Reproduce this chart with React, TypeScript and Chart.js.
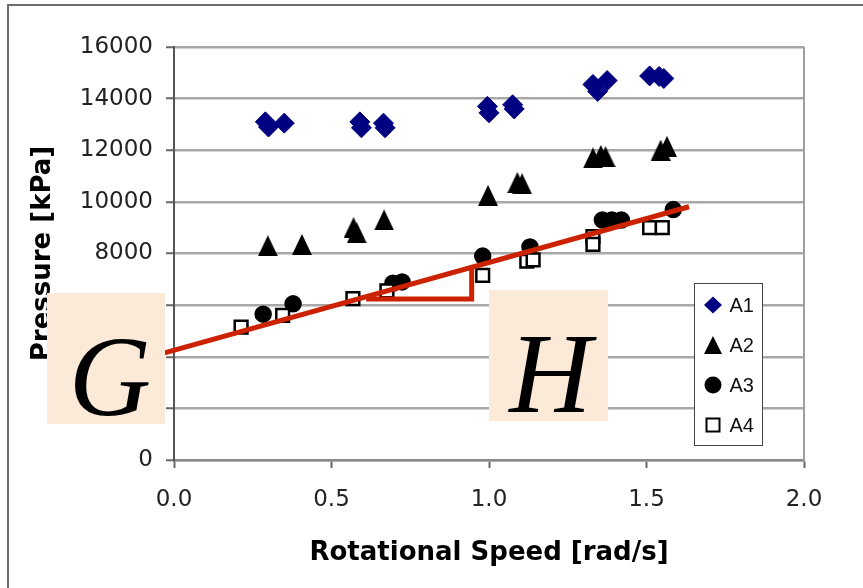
import React, { useEffect, useRef } from 'react';
import { Chart, registerables } from 'chart.js';

Chart.register(...registerables);

// ---- data ----
const seriesNames = ['A1', 'A2', 'A3', 'A4'];

const a1X = [0.29, 0.30, 0.35, 0.59, 0.595, 0.665, 0.67, 0.995, 1.0, 1.075, 1.08, 1.33, 1.345, 1.375, 1.51, 1.54, 1.555];
const a1Y = [13100, 12900, 13050, 13100, 12870, 13050, 12870, 13700, 13450, 13760, 13600, 14550, 14280, 14700, 14880, 14860, 14780];

const a2X = [0.298, 0.406, 0.57, 0.58, 0.667, 0.997, 1.09, 1.105, 1.33, 1.355, 1.37, 1.545, 1.565];
const a2Y = [8300, 8350, 9000, 8800, 9300, 10250, 10750, 10700, 11700, 11800, 11750, 12000, 12150];

const a3X = [0.283, 0.378, 0.695, 0.724, 0.98, 1.13, 1.36, 1.39, 1.42, 1.585];
const a3Y = [5650, 6050, 6850, 6900, 7900, 8250, 9300, 9300, 9300, 9700];

const a4X = [0.213, 0.345, 0.568, 0.676, 0.98, 1.12, 1.14, 1.33, 1.33, 1.51, 1.55];
const a4Y = [5150, 5600, 6250, 6550, 7150, 7700, 7750, 8650, 8350, 9000, 9000];

const trendX = [-0.03, 1.635];
const trendY = [4150, 9810];

const stepX = [0.61, 0.945, 0.945];
const stepY = [6240, 6240, 7450];

const xTickValues = [0, 0.5, 1.0, 1.5, 2.0];
const yTickValues = [0, 2000, 4000, 6000, 8000, 10000, 12000, 14000, 16000];

const xTitle = 'Rotational Speed [rad/s]';
const yTitle = 'Pressure [kPa]';

const boxLetters = ['G', 'H'];

// ---- styles ----
const NAVY = '#000080';
const RED = '#cc2200';
const PEACH = '#fbead8';
const AXIS_FONT = "'DejaVu Sans', sans-serif";

const pts = (xs: number[], ys: number[]) => xs.map((x, i) => ({ x, y: ys[i] }));

function makeTriangle(w: number, h: number, color: string) {
  const c = document.createElement('canvas');
  c.width = w;
  c.height = h;
  const g = c.getContext('2d')!;
  g.fillStyle = color;
  g.beginPath();
  g.moveTo(w / 2, 0);
  g.lineTo(w, h);
  g.lineTo(0, h);
  g.closePath();
  g.fill();
  return c;
}

const plotFrame = {
  id: 'plotFrame',
  beforeDatasetsDraw(chart: any) {
    const { ctx, chartArea } = chart;
    ctx.save();
    ctx.strokeStyle = '#a0a0a0';
    ctx.lineWidth = 2;
    ctx.beginPath();
    ctx.moveTo(chartArea.right, chartArea.top);
    ctx.lineTo(chartArea.right, chartArea.bottom);
    ctx.stroke();
    ctx.restore();
  },
};

function LegendMarker({ idx }: { idx: number }) {
  if (idx === 0)
    return (
      <svg width="20" height="20" viewBox="0 0 20 20">
        <polygon points="10,1.5 19,10 10,18.5 1,10" fill={NAVY} />
      </svg>
    );
  if (idx === 1)
    return (
      <svg width="20" height="20" viewBox="0 0 20 20">
        <polygon points="10,1 19,19 1,19" fill="#000" />
      </svg>
    );
  if (idx === 2)
    return (
      <svg width="20" height="20" viewBox="0 0 20 20">
        <circle cx="10" cy="10" r="8.5" fill="#000" />
      </svg>
    );
  return (
    <svg width="20" height="20" viewBox="0 0 20 20">
      <rect x="3.5" y="3.5" width="13" height="13" fill="#fff" stroke="#000" strokeWidth="2" />
    </svg>
  );
}

export default function App() {
  const ref = useRef<HTMLCanvasElement | null>(null);

  useEffect(() => {
    if (!ref.current) return;
    const tri = makeTriangle(20, 21, '#000');
    const chart = new Chart(ref.current, {
      type: 'scatter',
      data: {
        datasets: [
          {
            label: 'trend',
            data: pts(trendX, trendY),
            showLine: true,
            borderColor: RED,
            borderWidth: 5,
            pointRadius: 0,
            fill: false,
            clip: false,
            order: 0,
          } as any,
          {
            label: 'step',
            data: pts(stepX, stepY),
            showLine: true,
            borderColor: RED,
            borderWidth: 5,
            pointRadius: 0,
            fill: false,
            order: 0,
          } as any,
          {
            label: seriesNames[3],
            data: pts(a4X, a4Y),
            pointStyle: 'rect',
            pointRadius: 9,
            backgroundColor: '#fff',
            borderColor: '#000',
            borderWidth: 2.5,
            order: 1,
          },
          {
            label: seriesNames[2],
            data: pts(a3X, a3Y),
            pointStyle: 'circle',
            pointRadius: 8,
            backgroundColor: '#000',
            borderColor: '#000',
            borderWidth: 1.5,
            order: 2,
          },
          {
            label: seriesNames[1],
            data: pts(a2X, a2Y),
            pointStyle: tri as any,
            pointRadius: 10,
            backgroundColor: '#000',
            borderColor: '#000',
            order: 3,
          },
          {
            label: seriesNames[0],
            data: pts(a1X, a1Y),
            pointStyle: 'rectRot',
            pointRadius: 10,
            backgroundColor: NAVY,
            borderColor: NAVY,
            borderWidth: 1,
            order: 4,
          },
        ],
      },
      options: {
        animation: false,
        responsive: false,
        devicePixelRatio: 1,
        events: [],
        layout: { padding: { top: 47, right: 59, bottom: 0, left: 0 } },
        plugins: {
          legend: { display: false },
          tooltip: { enabled: false },
        },
        scales: {
          x: {
            type: 'linear',
            min: 0,
            max: 2,
            afterBuildTicks: (s: any) => {
              s.ticks = xTickValues.map((v) => ({ value: v }));
            },
            afterFit: (s: any) => {
              s.height = 128;
            },
            ticks: {
              callback: (v: any) => Number(v).toFixed(1),
              font: { family: AXIS_FONT, size: 23 },
              color: '#222',
              padding: 18,
              maxRotation: 0,
            },
            grid: {
              drawOnChartArea: false,
              drawTicks: true,
              tickLength: 8,
              tickColor: '#666',
              tickWidth: 2,
            },
            border: { display: true, color: '#8a8a8a', width: 2.5 },
            title: {
              display: true,
              text: xTitle,
              color: '#000',
              font: { family: AXIS_FONT, size: 26, weight: 'bold', lineHeight: 1.2 },
              padding: { top: 0, bottom: 19 },
            },
          },
          y: {
            type: 'linear',
            min: 0,
            max: 16000,
            afterBuildTicks: (s: any) => {
              s.ticks = yTickValues.map((v) => ({ value: v }));
            },
            afterFit: (s: any) => {
              s.width = 174;
            },
            ticks: {
              callback: (v: any) => String(v),
              font: { family: AXIS_FONT, size: 23 },
              color: '#222',
              padding: 13,
            },
            grid: {
              color: '#a8a8a8',
              lineWidth: 2.5,
              drawTicks: true,
              tickLength: 8,
              tickColor: '#666',
              tickWidth: 2,
            },
            border: { display: true, color: '#555', width: 2 },
            title: {
              display: true,
              text: yTitle,
              color: '#000',
              font: { family: AXIS_FONT, size: 26, weight: 'bold', lineHeight: 1.2 },
              padding: { top: 28, bottom: 0 },
            },
          },
        },
      },
      plugins: [plotFrame],
    } as any);
    return () => chart.destroy();
  }, []);

  const boxes = [
    { left: 47, top: 293, width: 118, height: 131, shift: 4 },
    { left: 489, top: 290, width: 119, height: 131, shift: 2 },
  ];

  return (
    <div
      style={{
        position: 'fixed',
        left: 0,
        top: 0,
        width: 863,
        height: 588,
        overflow: 'hidden',
        background: '#fff',
      }}
    >
      <canvas
        ref={ref}
        width={863}
        height={588}
        style={{ position: 'absolute', left: 0, top: 0, width: 863, height: 588 }}
      />
      <div
        style={{
          position: 'absolute',
          left: 7,
          top: 4,
          width: 1000,
          height: 800,
          borderLeft: '2px solid #6e6e6e',
          borderTop: '2px solid #6e6e6e',
        }}
      />
      {boxes.map((b, i) => (
        <div
          key={i}
          style={{
            position: 'absolute',
            left: b.left,
            top: b.top,
            width: b.width,
            height: b.height,
            background: PEACH,
          }}
        >
          <div
            style={{
              position: 'absolute',
              left: b.shift,
              top: 27,
              width: b.width,
              textAlign: 'center',
              fontFamily: "'Liberation Serif', 'Times New Roman', serif",
              fontStyle: 'italic',
              fontSize: 114,
              lineHeight: '114px',
              color: '#000',
            }}
          >
            {boxLetters[i]}
          </div>
        </div>
      ))}
      <div
        style={{
          position: 'absolute',
          left: 694,
          top: 283,
          width: 69,
          height: 163,
          boxSizing: 'border-box',
          border: '1.5px solid #444',
          background: '#fff',
        }}
      >
        {seriesNames.map((n, i) => (
          <div
            key={n}
            style={{ position: 'absolute', left: 0, top: 2 + i * 40 - 1.5, height: 40, width: 66 }}
          >
            <div style={{ position: 'absolute', left: 7.5, top: 10, width: 20, height: 20 }}>
              <LegendMarker idx={i} />
            </div>
            <div
              style={{
                position: 'absolute',
                left: 34.5,
                top: 0,
                lineHeight: '40px',
                fontFamily: "'Liberation Sans', Arial, sans-serif",
                fontSize: 20,
                color: '#111',
              }}
            >
              {n}
            </div>
          </div>
        ))}
      </div>
    </div>
  );
}
